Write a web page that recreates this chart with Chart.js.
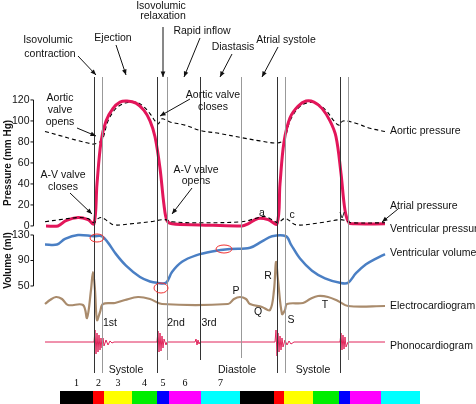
<!DOCTYPE html>
<html>
<head>
<meta charset="UTF-8">
<style>
  body { margin: 0; background: #fff; }
  #wrap { width: 476px; height: 404px; }
</style>
</head>
<body>
<div id="wrap"><canvas id="c" width="476" height="404"></canvas></div>
<script src="https://cdn.jsdelivr.net/npm/chart.js@4.4.0/dist/chart.umd.min.js"></script>
<script>
// x values are positions along the time axis (0..476), pressure in mm Hg, volume in ml
const ventPressure = [[46,0],[58,0],[66,5],[78,8],[88,6],[94,2],[97,40],[101,80],[106,100],[113,112],[120,118],[127,119],[136,117],[144,110],[150,100],[155,85],[160,55],[164,20],[167,5],[172,2],[200,1],[242,0],[248,2],[258,7],[268,6],[277,2],[280,40],[284,80],[290,103],[298,114],[306,119],[314,118],[322,112],[330,100],[336,85],[341,50],[345,15],[349,3],[355,2],[385,2]];
const aorticPressure = [[45,90],[60,86],[75,82],[88,79],[94,78],[102,82],[108,100],[116,112],[125,117],[135,118],[142,115],[150,107],[155,100],[158,97],[162,102],[170,99],[185,96],[200,91],[220,88],[242,84],[260,81],[277,79],[284,82],[290,100],[298,112],[306,117],[316,117],[326,110],[334,100],[339,96],[343,100],[355,98],[370,93],[385,90]];
const atrialPressure = [[45,4],[60,6],[78,8],[88,7],[94,3],[98,7],[102,8],[107,5],[114,1],[130,2],[150,4],[165,6],[172,4],[200,3],[242,4],[255,7],[264,9],[272,6],[278,3],[284,7],[288,6],[296,1],[320,3],[340,6],[346,5],[352,3],[385,3]];
const ventVolume = [[45,115],[57,115],[65,124],[78,130],[94,128],[102,128],[108,118],[116,100],[126,82],[140,64],[150,57],[157,55],[166,55],[172,72],[182,88],[196,98],[212,104],[230,108],[250,110],[262,120],[272,128],[286,128],[291,115],[300,93],[312,74],[325,62],[340,55],[348,55],[356,70],[366,84],[376,93],[385,100]];
// ECG and phono are traces in plain vertical units (0 top, 404 bottom)
const ecg = [[45,304],[50,300],[56,297],[62,299],[68,305],[83,305],[87,318],[91,290],[93,272],[95,290],[97,320],[100,312],[103,304],[115,303],[125,300],[138,297],[150,299],[162,304],[228,304],[234,299],[240,297],[246,299],[250,304],[262,307],[270,310],[274,290],[276,262],[278,280],[282,314],[285,310],[287,304],[303,303],[310,299],[318,296],[328,297],[338,301],[348,306],[385,306]];
const phono = [[45,342],[94,342],[95,330],[96,354],[97,333],[98,352],[99,335],[100,350],[101,338],[102,348],[103,338],[104,346],[106,340],[108,345],[110,341],[112,343],[114,342],[157,342],[158,331],[159,352],[160,333],[161,351],[162,336],[163,348],[164,339],[166,345],[167,342],[195,342],[196,339],[197,345],[198,340],[199,344],[200,342],[275,342],[276,330],[277,356],[278,333],[279,352],[280,336],[281,350],[282,338],[283,347],[285,340],[287,345],[289,341],[291,344],[294,342],[340,342],[341,333],[342,350],[343,335],[344,349],[345,337],[346,347],[348,342],[385,342]];
const vlinesX = [94.5,102.5,157.5,167.5,200.5,241.5,277.5,285.5,340.5,348.5];
const vlinesTop = [77,77,77,77,77,77,77,77,77,77];
const vlinesBottom = [373,373,373,360,360,358,373,373,373,360];
const pressureTicks = [0,20,40,60,80,100,120];
const volumeTicks = [50,90,130];
const phaseNums = ['1','2','3','4','5','6','7'];
const phaseBounds = [60,93,104,132,157,169,201,240,274,284,313,339,350,381,420];
const phaseColors = ['#000000','#ff0000','#ffff00','#00ee00','#0000ff','#ff00ff','#00ffff'];

const pts = a => a.map(p => ({x: p[0], y: p[1]}));
const lineDs = (data, color, width, axis, dash) => ({
  data: pts(data), borderColor: color, borderWidth: width, yAxisID: axis,
  borderDash: dash || [], pointRadius: 0, tension: 0.35, fill: false
});

const datasets = [];
vlinesX.forEach((x, i) => datasets.push({
  data: [{x: x, y: vlinesTop[i]}, {x: x, y: vlinesBottom[i]}],
  borderColor: (i % 2 === 0) ? '#333' : '#999', borderWidth: 1, yAxisID: 'yPx', pointRadius: 0
}));
datasets.push(lineDs(phono, '#e0245a', 1, 'yPx'));
datasets[datasets.length - 1].tension = 0;
datasets.push(lineDs(ecg, '#a98b6c', 2.2, 'yPx'));
datasets.push(lineDs(ventVolume, '#4a7fc4', 2.5, 'yV'));
datasets.push(lineDs(atrialPressure, '#000', 1.1, 'yP', [4, 3]));
datasets.push(lineDs(ventPressure, '#e3165a', 3, 'yP'));
datasets.push(lineDs(aorticPressure, '#000', 1.1, 'yP', [4, 3]));

const texts = [
  ['Isovolumic', 48, 40], ['contraction', 50, 54], ['Ejection', 113, 38],
  ['Isovolumic', 161, 6], ['relaxation', 163, 16], ['Rapid inflow', 202, 31],
  ['Diastasis', 233, 47], ['Atrial systole', 286, 40],
  ['Aortic', 60, 98], ['valve', 60, 110], ['opens', 60, 122],
  ['Aortic valve', 213, 95], ['closes', 213, 107],
  ['A-V valve', 63, 175], ['closes', 63, 187],
  ['A-V valve', 196, 170], ['opens', 196, 181],
  ['a', 262, 213], ['c', 292, 215], ['v', 342, 215],
  ['P', 236, 291], ['R', 268, 276], ['Q', 258, 312], ['S', 291, 320], ['T', 325, 305],
  ['1st', 110, 323], ['2nd', 176, 323], ['3rd', 209, 323],
  ['Systole', 126, 370], ['Diastole', 237, 370], ['Systole', 313, 370]
];
const rightLabels = [['Aortic pressure', 131], ['Atrial pressure', 206], ['Ventricular pressure', 229],
  ['Ventricular volume', 253], ['Electrocardiogram', 306], ['Phonocardiogram', 346]];
const arrows = [[78,56,96,75],[116,45,126,75],[163,27,163,77],[200,38,184,77],[232,54,220,77],[278,47,262,77],
  [77,128,96,136],[190,99,160,116],[70,193,92,214],[192,188,172,214],[398,209,382,222]];
const ellipses = [[97,238,7,4],[161,288,7,5],[224,249,8,4]];

const deco = {
  id: 'deco',
  afterDatasetsDraw(chart) {
    const c = chart.ctx, sx = chart.scales.x, sp = chart.scales.yP, sv = chart.scales.yV, sy = chart.scales.yPx;
    c.save();
    c.fillStyle = '#111'; c.strokeStyle = '#111'; c.lineWidth = 1;
    c.font = '10.5px "Liberation Sans", Arial, sans-serif';
    c.textAlign = 'center'; c.textBaseline = 'middle';
    texts.forEach(t => c.fillText(t[0], sx.getPixelForValue(t[1]), sy.getPixelForValue(t[2])));
    c.textAlign = 'left';
    rightLabels.forEach(t => c.fillText(t[0], sx.getPixelForValue(390), sy.getPixelForValue(t[1])));
    // arrows
    arrows.forEach(a => {
      const x1 = sx.getPixelForValue(a[0]), y1 = sy.getPixelForValue(a[1]);
      const x2 = sx.getPixelForValue(a[2]), y2 = sy.getPixelForValue(a[3]);
      c.beginPath(); c.moveTo(x1, y1); c.lineTo(x2, y2); c.stroke();
      const ang = Math.atan2(y2 - y1, x2 - x1);
      c.beginPath(); c.moveTo(x2, y2);
      c.lineTo(x2 - 6 * Math.cos(ang - 0.4), y2 - 6 * Math.sin(ang - 0.4));
      c.lineTo(x2 - 6 * Math.cos(ang + 0.4), y2 - 6 * Math.sin(ang + 0.4));
      c.closePath(); c.fill();
    });
    // ellipses
    c.strokeStyle = '#f03030';
    ellipses.forEach(e => { c.beginPath(); c.ellipse(e[0], e[1], e[2], e[3], 0, 0, Math.PI * 2); c.stroke(); });
    // pressure and volume axes
    c.strokeStyle = '#111'; c.fillStyle = '#111';
    c.font = '10.5px "Liberation Sans", Arial, sans-serif';
    const ax = 33.5;
    c.beginPath(); c.moveTo(ax, sp.getPixelForValue(120)); c.lineTo(ax, sp.getPixelForValue(0)); c.stroke();
    c.textAlign = 'right';
    pressureTicks.forEach(v => {
      const y = sp.getPixelForValue(v);
      c.beginPath(); c.moveTo(ax - 3, y); c.lineTo(ax, y); c.stroke();
      c.fillText(String(v), ax - 4, y);
    });
    c.beginPath(); c.moveTo(ax, sv.getPixelForValue(130)); c.lineTo(ax, sv.getPixelForValue(50)); c.stroke();
    volumeTicks.forEach(v => {
      const y = sv.getPixelForValue(v);
      c.beginPath(); c.moveTo(ax - 3, y); c.lineTo(ax, y); c.stroke();
      c.fillText(String(v), ax - 4, y);
    });
    c.font = 'bold 10px "Liberation Sans", Arial, sans-serif';
    c.textAlign = 'center';
    c.save(); c.translate(8, sp.getPixelForValue(60)); c.rotate(-Math.PI / 2); c.fillText('Pressure (mm Hg)', 0, 0); c.restore();
    c.save(); c.translate(8, sv.getPixelForValue(90)); c.rotate(-Math.PI / 2); c.fillText('Volume (ml)', 0, 0); c.restore();
    // phase colour bar
    const yb = sy.getPixelForValue(391), yb2 = sy.getPixelForValue(404);
    c.font = '10px "Liberation Serif", "Times New Roman", serif';
    for (let i = 0; i < phaseBounds.length - 1; i++) {
      const x1 = sx.getPixelForValue(phaseBounds[i]), x2 = sx.getPixelForValue(phaseBounds[i + 1]);
      c.fillStyle = phaseColors[i % 7];
      c.fillRect(x1, yb, x2 - x1, yb2 - yb);
      if (i < 7) {
        c.fillStyle = '#000';
        c.fillText(phaseNums[i], (x1 + x2) / 2, sy.getPixelForValue(383));
      }
    }
    c.restore();
  }
};

new Chart(document.getElementById('c'), {
  type: 'line',
  data: { datasets: datasets },
  options: {
    responsive: false, animation: false,
    layout: { padding: 0 },
    plugins: { legend: { display: false }, tooltip: { enabled: false } },
    scales: {
      x: { type: 'linear', min: 0, max: 476, display: false },
      yP: { min: -169.6, max: 215.2, display: false },
      yV: { min: -135.1, max: 498.6, display: false },
      yPx: { min: 0, max: 404, reverse: true, display: false }
    }
  },
  plugins: [deco]
});
</script>
</body>
</html>
